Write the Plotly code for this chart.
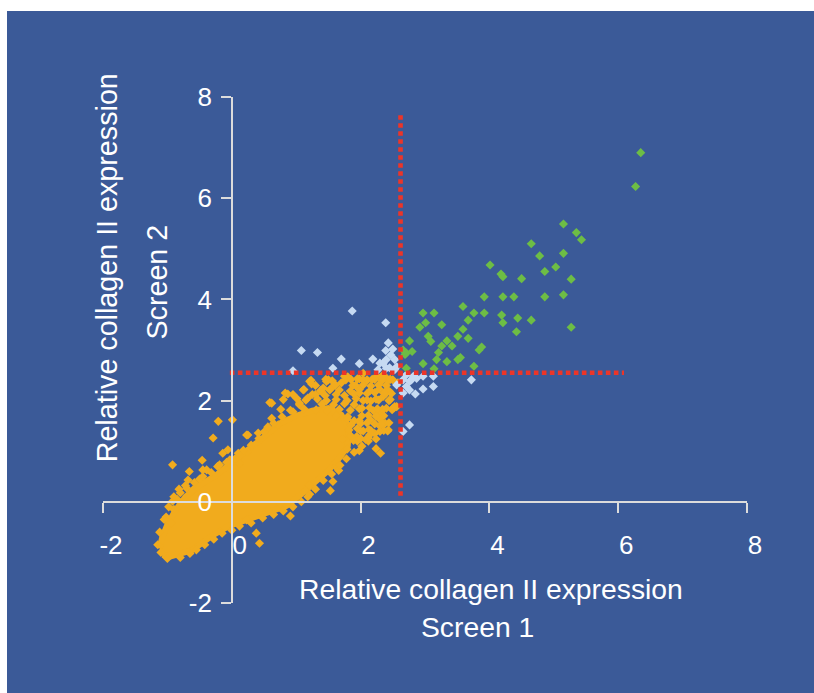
import plotly.graph_objects as go

# ---------------- data ----------------
# dense core of the screen-wide cloud (outline of the saturated area)
core_x = [-1.08, -0.95, -0.62, -0.32, -0.05, 0.25, 0.55, 0.85, 1.05, 1.30, 1.50, 1.68, 1.80,
          1.82, 1.70, 1.50, 1.25, 1.00, 0.75, 0.50, 0.25, 0.00, -0.25, -0.50, -0.72, -0.88, -1.00, -1.08, -1.12]
core_y = [-1.05, -1.08, -0.96, -0.68, -0.48, -0.34, -0.22, -0.08, 0.12, 0.38, 0.62, 0.88, 1.10,
          1.45, 1.72, 1.85, 1.80, 1.70, 1.55, 1.28, 1.02, 0.76, 0.52, 0.33, 0.10, -0.18, -0.45, -0.70, -0.92]

# individual screen-wide hits (orange): outliers, cloud edge and the looser upper-right part
orange_x = [0.01, -0.21, -0.29, -0.92, -0.66, -0.46, -0.92, -0.39, -0.14, -0.06, -0.03, 0.10, 0.24, 0.25, 0.41,
            0.56, 0.72, -0.19, 0.12, -0.70, -0.60, -0.68, -0.45, -0.50, -0.80, -0.85, -0.94, -1.02, -0.90, -1.12,
            -1.15, -1.10, 0.38, 0.43, 0.91, 0.75, 0.56, 0.23, 1.21, 1.53, 1.57, 1.20, 1.61, 1.66, 2.31,
            1.94, 2.14, 0.23, 0.62, 0.83, 1.11, 1.21, 1.47, 1.75, 2.04, 2.25, 2.40, 0.59, 0.87, 1.24,
            1.39, 1.52, 1.50, 1.80, 2.35, 2.50, 2.56, 2.38, 2.27, 0.56, 0.62, 2.43, 2.35, 2.50, 2.58,
            2.45, 2.53, 2.40, 2.32, 2.04, 2.35,
            # upper edge
            -1.05, -0.98, -0.90, -0.82, -0.72, -0.58, -0.45, -0.32, -0.22, -0.08, 0.05, 0.18, 0.30, 0.42, 0.50,
            0.65, 0.78, 0.95, 1.05, 1.18, 1.30, 1.42, 1.60, 1.70,
            # lower edge
            -1.00, -0.80, -0.65, -0.55, -0.42, -0.28, -0.15, 0.00, 0.12, 0.30, 0.48, 0.65, 0.80, 0.95, 1.08,
            1.18, 1.30, 1.42, 1.55, 1.68, 1.78, 1.90, 2.02, 2.12, 2.22, 2.30,
            # looser upper-right part of the cloud
            1.23, 1.46, 1.56, 1.77, 1.95, 2.10, 2.18, 2.33, 2.44,
            1.12, 1.38, 1.53, 1.67, 1.84, 1.98, 2.15, 2.29, 2.41,
            0.80, 1.01, 1.15, 1.33, 1.47, 1.62, 1.79, 1.93, 2.10, 2.24, 2.46,
            0.76, 0.91, 1.12, 1.31, 1.48, 1.67, 1.84, 1.98, 2.20, 2.34, 2.49,
            1.05, 1.40, 1.58, 1.75, 1.90,
            1.62, 1.80, 1.90, 1.85, 1.95, 1.85, 1.95,
            0.95, 1.25, 1.45, 1.62, 1.75, 1.90,
            1.30, 1.60, 1.88,
            1.79, 1.98, 2.15, 2.29,
            1.82, 2.00, 2.13, 2.36,
            1.72, 1.89, 2.08,
            1.79, 1.98, 2.24,
            1.85, 1.98, 2.10, 2.22, 2.34, 2.46,
            1.92, 2.04, 2.16, 2.28, 2.40,
            1.98, 2.10, 2.22, 2.36, 2.48,
            2.04, 2.16, 2.28, 2.44,
            2.02, 2.14, 2.26, 2.40, 2.52,
            2.02, 2.12, 2.24, 2.36,
            2.00, 2.10, 2.22, 2.34, 2.44,
            2.04, 2.16, 2.30, 2.42,
            2.00, 2.12, 2.24]
orange_y = [1.62, 1.59, 1.26, 0.73, 0.60, 0.82, 0.01, 0.63, 0.96, 1.03, 0.83, 0.96, 0.99, 1.32, 1.36,
            1.48, 1.52, 0.73, 0.76, 0.27, 0.24, 0.43, 0.63, 0.45, 0.18, 0.05, -0.42, -0.30, -0.15, -0.60,
            -0.85, -1.00, -0.62, -0.82, -0.28, -0.04, -0.16, -0.36, 0.15, 0.22, 0.40, 0.33, 0.70, 0.62, 0.96,
            1.29, 1.32, 1.32, 1.95, 2.15, 2.21, 2.38, 2.38, 2.48, 2.41, 2.48, 2.44, 1.96, 2.13, 2.33,
            2.18, 2.21, 2.41, 2.47, 2.08, 1.85, 1.88, 1.55, 1.72, 1.46, 1.65, 1.42, 1.54, 2.41, 2.35,
            2.18, 1.88, 2.15, 1.78, 2.54, 2.51,
            # upper edge
            -0.35, -0.10, 0.10, 0.25, 0.32, 0.38, 0.50, 0.58, 0.70, 0.78, 0.85, 1.02, 1.12, 1.25, 1.38,
            1.55, 1.68, 1.78, 1.95, 2.05, 2.12, 2.25, 2.30, 2.35,
            # lower edge
            -1.12, -1.10, -1.02, -0.95, -0.85, -0.74, -0.62, -0.56, -0.48, -0.42, -0.32, -0.25, -0.18, -0.10, 0.00,
            0.10, 0.25, 0.42, 0.55, 0.72, 0.85, 0.98, 1.10, 1.20, 1.35, 1.50,
            # looser upper-right part of the cloud
            2.40, 2.42, 2.39, 2.41, 2.43, 2.40, 2.42, 2.39, 2.41,
            2.22, 2.20, 2.23, 2.21, 2.19, 2.22, 2.20, 2.23, 2.21,
            2.02, 2.04, 2.01, 2.03, 2.00, 2.02, 2.00, 2.04, 2.01, 2.03, 2.02,
            1.83, 1.81, 1.84, 1.82, 1.80, 1.83, 1.81, 1.84, 1.80, 1.83, 1.82,
            1.92, 1.93, 1.92, 1.94, 1.92,
            1.70, 1.68, 1.60, 1.52, 1.45, 1.30, 1.20,
            2.12, 2.12, 2.10, 2.12, 2.10, 2.13,
            2.30, 2.32, 2.30,
            1.63, 1.60, 1.62, 1.64,
            1.42, 1.40, 1.43, 1.41,
            1.24, 1.21, 1.23,
            1.04, 1.01, 1.05,
            2.42, 2.43, 2.41, 2.42, 2.44, 2.42,
            2.30, 2.31, 2.29, 2.31, 2.30,
            2.15, 2.14, 2.16, 2.15, 2.14,
            2.00, 1.99, 2.01, 2.00,
            1.85, 1.86, 1.84, 1.85, 1.86,
            1.70, 1.71, 1.69, 1.70,
            1.55, 1.56, 1.54, 1.55, 1.56,
            1.40, 1.41, 1.39, 1.40,
            1.25, 1.26, 1.24]

# hits above threshold in one screen only (light blue)
blue_x = [1.87, 2.39, 2.43, 2.39, 1.08, 1.33, 1.70, 1.98, 2.19, 2.30, 2.40, 2.53, 1.57, 0.95, 2.27,
          2.45, 2.56, 2.35, 2.53, 2.40, 2.71, 2.82, 2.97, 3.13, 2.76, 2.66, 2.87, 2.79, 2.56, 2.66,
          2.76, 2.71, 2.97, 3.13, 3.72, 2.85, 2.76, 2.66, 2.47, 2.50]
blue_y = [3.77, 3.54, 3.14, 2.99, 2.99, 2.95, 2.82, 2.73, 2.82, 2.74, 2.81, 2.81, 2.64, 2.59, 2.61,
          2.65, 2.67, 2.74, 2.61, 2.64, 2.51, 2.48, 2.48, 2.48, 2.38, 2.41, 2.44, 2.41, 2.31, 2.15,
          2.21, 2.28, 2.23, 2.28, 2.41, 2.13, 1.52, 1.39, 2.90, 3.02]

# hits above threshold in both screens (green)
green_x = [6.35, 6.27, 5.15, 5.35, 5.43, 4.65, 4.78, 5.15, 4.01, 4.18, 4.21, 4.86, 5.03, 4.50, 5.27,
           3.92, 4.21, 4.38, 4.86, 5.15, 3.59, 3.76, 3.92, 4.19, 4.44, 4.65, 4.21, 5.27, 4.42, 2.97,
           3.14, 3.01, 2.92, 3.26, 3.67, 3.59, 3.51, 3.67, 3.05, 3.09, 3.34, 3.26, 3.42, 2.76, 2.80,
           3.21, 3.88, 3.84, 3.55, 3.51, 3.18, 3.34, 2.97, 3.14, 3.76, 2.69, 2.66, 2.71, 2.71]
green_y = [6.90, 6.23, 5.49, 5.32, 5.18, 5.10, 4.86, 4.91, 4.68, 4.50, 4.45, 4.55, 4.64, 4.41, 4.40,
           4.05, 4.05, 4.05, 4.05, 4.09, 3.86, 3.73, 3.73, 3.69, 3.63, 3.59, 3.54, 3.45, 3.36, 3.73,
           3.73, 3.54, 3.45, 3.50, 3.59, 3.41, 3.27, 3.23, 3.27, 3.17, 3.18, 3.08, 3.08, 3.18, 2.97,
           2.95, 3.06, 3.00, 2.85, 2.81, 2.81, 2.77, 2.73, 2.63, 2.68, 2.91, 3.00, 2.94, 2.64]

# threshold lines
thr_v_x = [2.62, 2.62]
thr_v_y = [0.12, 7.65]
thr_h_x = [-0.03, 6.09]
thr_h_y = [2.55, 2.55]

x_ticks = [-2, 0, 2, 4, 6, 8]
y_ticks = [-2, 0, 2, 4, 6, 8]
tick_text = ["-2", "0", "2", "4", "6", "8"]
x_title = ["Relative collagen II expression", "Screen 1"]
y_title = ["Relative collagen II expression", "Screen 2"]

# ---------------- style ----------------
BG = '#3B5A98'
ORANGE = '#F1AB1D'
LBLUE = '#C6DAF2'
GREEN = '#6DBD45'
RED = '#EC3528'
AX = '#DCDCDC'
FONT = 'Liberation Sans, Arial, sans-serif'
MS = 7

fig = go.Figure()
fig.add_trace(go.Scatter(x=core_x, y=core_y, mode='lines', fill='toself', fillcolor=ORANGE,
                         line=dict(color=ORANGE, width=6), hoverinfo='skip'))
fig.add_trace(go.Scatter(x=orange_x, y=orange_y, mode='markers',
                         marker=dict(symbol='diamond', size=MS, color=ORANGE, line=dict(width=0))))
fig.add_trace(go.Scatter(x=blue_x, y=blue_y, mode='markers',
                         marker=dict(symbol='diamond', size=MS, color=LBLUE, line=dict(width=0))))
fig.add_trace(go.Scatter(x=green_x, y=green_y, mode='markers',
                         marker=dict(symbol='diamond', size=MS, color=GREEN, line=dict(width=0))))
for xs, ys in ((thr_v_x, thr_v_y), (thr_h_x, thr_h_y)):
    fig.add_trace(go.Scatter(x=xs, y=ys, mode='lines',
                             line=dict(color=RED, width=4.6, dash='4.6px,3.4px')))

axis_common = dict(range=[-2, 8], showgrid=False, zeroline=False, showline=True,
                   linecolor=AX, linewidth=1.5, ticks='outside', ticklen=10, tickwidth=1.5,
                   tickcolor=AX, anchor='free', position=0.2,
                   tickfont=dict(family=FONT, size=26, color='white'))

fig.update_layout(
    width=814, height=693,
    margin=dict(l=103, r=67, t=97, b=90),
    paper_bgcolor=BG, plot_bgcolor=BG,
    showlegend=False, hovermode=False,
    xaxis=dict(**axis_common, tickvals=x_ticks, ticktext=tick_text, ticklabelstandoff=10, ticklabelshift=8),
    yaxis=dict(**axis_common, tickvals=y_ticks, ticktext=tick_text, ticklabelstandoff=4),
)

# thin white page border at the top and left
fig.add_shape(type='rect', xref='paper', yref='paper', x0=-0.3, x1=1.3, y0=1 - (11 - 97) / 506, y1=1.5,
              fillcolor='white', line=dict(width=0), layer='above')
fig.add_shape(type='rect', xref='paper', yref='paper', x0=-0.3, x1=(7 - 103) / 644, y0=-0.5, y1=1.5,
              fillcolor='white', line=dict(width=0), layer='above')

tfont = dict(family=FONT, size=28.3, color='white')
fig.add_annotation(text=x_title[0], xref='paper', yref='paper', x=(490.5 - 103) / 644, y=(603 - 588.5) / 506,
                   showarrow=False, xanchor='center', yanchor='middle', font=tfont)
fig.add_annotation(text=x_title[1], xref='paper', yref='paper', x=(477 - 103) / 644, y=(603 - 626.9) / 506,
                   showarrow=False, xanchor='center', yanchor='middle', font=tfont)
fig.add_annotation(text=y_title[0], xref='paper', yref='paper', x=(106.8 - 103) / 644, y=(603 - 267.5) / 506,
                   showarrow=False, xanchor='center', yanchor='middle', textangle=-90,
                   font=dict(family=FONT, size=28.7, color='white'))
fig.add_annotation(text=y_title[1], xref='paper', yref='paper', x=(156.1 - 103) / 644, y=(603 - 282.5) / 506,
                   showarrow=False, xanchor='center', yanchor='middle', textangle=-90,
                   font=dict(family=FONT, size=28.7, color='white'))

# remove the default page margin so the figure fills the window like the reference
fig.write_html("out.html", config={'displayModeBar': False},
               post_script="document.body.style.margin='0';document.body.style.overflow='hidden';")
